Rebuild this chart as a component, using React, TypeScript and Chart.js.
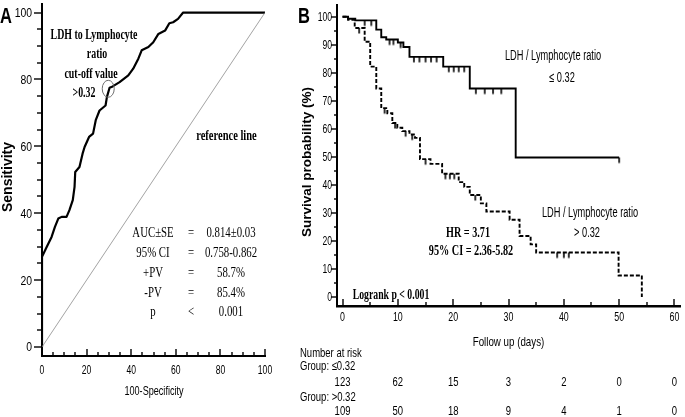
import React, { useEffect, useRef } from 'react';
import { Chart, registerables } from 'chart.js';

Chart.register(...registerables);

// ---------- Panel A: ROC curve ----------
const rocFpr = [0, 0, 2.1, 4.3, 5.8, 7.3, 8.8, 11, 12.3, 13.8, 14.6, 14.9, 16.8, 18.2, 19.1, 21.1, 22.9, 24.1, 25.8, 28.5, 29.1, 30.3, 31.7, 34.8, 38.7, 40.9, 43.2, 44.7, 47.7, 49.9, 52.2, 55.2, 57.1, 58.8, 61, 63.3, 100];
const rocTpr = [0, 27, 29.9, 32.9, 35.9, 38.4, 38.9, 38.9, 40.9, 43.9, 47.9, 52.3, 53.8, 57.8, 59.8, 62.8, 63.8, 67.8, 70.7, 72.2, 74.7, 77.5, 77.9, 79.2, 81.2, 83.2, 86.2, 88.7, 89.7, 91.1, 93.6, 94.6, 96.8, 97.1, 98.1, 100, 100];
const refLineX = [0, 100];
const refLineY = [0, 100];
const cutoffFpr = 29.7;
const cutoffTpr = 77.2;
const statLabels = ['AUC±SE', '95% CI', '+PV', '-PV', 'p'];
const statOps = ['=', '=', '=', '=', '<'];
const statValues = ['0.814±0.03', '0.758-0.862', '58.7%', '85.4%', '0.001'];

// ---------- Panel B: Kaplan-Meier ----------
const lowTimes = [0, 1, 2.3, 6.1, 7, 7.9, 10, 11, 12.1, 18.2, 23, 31.3, 50];
const lowSurv = [100, 99.3, 98.7, 95.4, 92.7, 91.9, 90.8, 89.2, 85.7, 82.2, 74.4, 49.8, 49.8];
const lowCensor = [4, 5.2, 8.5, 9.2, 10.5, 12.9, 13.9, 15, 16, 17, 19.2, 20.1, 21, 22, 24.1, 25.7, 27.2, 28.7, 50];
const highTimes = [0, 1, 2.2, 4, 5, 6.1, 7, 8.1, 9, 9.9, 10.8, 12.1, 13.1, 14, 15.9, 18, 21, 22, 23, 25, 26, 30.2, 32, 34, 35, 49.9, 54.1];
const highSurv = [100, 98.9, 96, 91.1, 82.2, 74.4, 67.4, 65.6, 62.1, 60.4, 59.2, 58, 56.8, 49.2, 47.5, 44, 41, 39.3, 36.4, 33.4, 30.5, 27.6, 21.8, 18.8, 15.9, 7.7, 0];
const highCensor = [3, 7.6, 9.5, 11.4, 12.6, 15, 18.6, 19.4, 20.2, 24, 38.8, 40, 40.9];
const riskTimes = [0, 10, 20, 30, 40, 50, 60];
const riskLow = [123, 62, 15, 3, 2, 0, 0];
const riskHigh = [109, 50, 18, 9, 4, 1, 0];

const SANS = "'Liberation Sans', Arial, sans-serif";
const SERIF = "'Liberation Serif', 'Times New Roman', serif";

function survAt(times: number[], surv: number[], t: number) {
  let v = surv[0];
  for (let i = 0; i < times.length; i++) if (times[i] <= t) v = surv[i];
  return v;
}

function txt(ctx: CanvasRenderingContext2D, s: string, x: number, y: number, size: number, family: string, bold: boolean, align: CanvasTextAlign, sx: number) {
  ctx.save();
  ctx.font = `${bold ? 'bold ' : ''}${size}px ${family}`;
  ctx.textAlign = align;
  ctx.textBaseline = 'alphabetic';
  ctx.fillStyle = '#000';
  ctx.translate(x, y + size * 0.34);
  ctx.scale(sx, 1);
  ctx.fillText(s, 0, 0);
  ctx.restore();
}

function rtxt(ctx: CanvasRenderingContext2D, s: string, cx: number, cy: number, font: string) {
  ctx.save();
  ctx.translate(cx, cy);
  ctx.rotate(-Math.PI / 2);
  ctx.font = font;
  ctx.textAlign = 'center';
  ctx.textBaseline = 'middle';
  ctx.fillStyle = '#000';
  ctx.fillText(s, 0, 0);
  ctx.restore();
}

// draws major/minor tick marks and the tick labels of the chart's own scales
function axisPlugin(o: any) {
  return {
    id: 'axisMarks',
    afterDraw(chart: any) {
      const { ctx, chartArea } = chart;
      const xs = chart.scales.x;
      const ys = chart.scales.y;
      ctx.save();
      ctx.strokeStyle = '#000';
      ctx.lineWidth = 1.4;
      for (let v = o.xMin; v <= o.xMax + 1e-9; v += o.xStep) {
        const px = Math.round(xs.getPixelForValue(v));
        const len = Math.abs(v % o.xMajor) < 1e-9 ? o.xMajLen : o.xMinLen;
        ctx.beginPath();
        ctx.moveTo(px, chartArea.bottom);
        ctx.lineTo(px, chartArea.bottom - len);
        ctx.stroke();
      }
      for (let v = o.yMin; v <= o.yMax + 1e-9; v += o.yStep) {
        const py = Math.round(ys.getPixelForValue(v));
        const len = Math.abs(v % o.yMajor) < 1e-9 ? o.yMajLen : o.yMinLen;
        ctx.beginPath();
        ctx.moveTo(chartArea.left, py);
        ctx.lineTo(chartArea.left - len, py);
        ctx.stroke();
      }
      ctx.restore();
      for (const t of xs.ticks) {
        txt(ctx, String(t.value), xs.getPixelForValue(t.value), chartArea.bottom + o.xLabelGap, 13, SANS, false, 'center', o.xSx);
      }
      for (const t of ys.ticks) {
        txt(ctx, String(t.value), chartArea.left - o.yLabelGap, ys.getPixelForValue(t.value), 13, SANS, false, 'right', o.ySx);
      }
    },
  };
}

const baseAxis = (extra: any, bw: number) => ({
  type: 'linear',
  grid: { display: false, drawTicks: false },
  border: { display: true, color: '#000', width: bw },
  ...extra,
});

export default function App() {
  const leftRef = useRef<HTMLCanvasElement>(null);
  const rightRef = useRef<HTMLCanvasElement>(null);

  useEffect(() => {
    const tickImg = document.createElement('canvas');
    tickImg.width = 4;
    tickImg.height = 14;
    const tctx = tickImg.getContext('2d')!;
    tctx.fillStyle = '#000';
    tctx.fillRect(1.2, 7, 1.6, 5.5);

    const leftText = {
      id: 'leftText',
      afterDraw(chart: any) {
        const { ctx } = chart;
        const xs = chart.scales.x;
        const ys = chart.scales.y;
        txt(ctx, 'A', 0, 16, 22, SANS, true, 'left', 0.75);
        rtxt(ctx, 'Sensitivity', 8, 177, `bold 14px ${SANS}`);
        txt(ctx, '100-Specificity', 154, 391, 13, SANS, false, 'center', 0.7);
        txt(ctx, 'LDH to Lymphocyte', 94, 34, 15, SERIF, true, 'center', 0.66);
        txt(ctx, 'ratio', 97, 53, 15, SERIF, true, 'center', 0.66);
        txt(ctx, 'cut-off value', 91, 73, 15, SERIF, true, 'center', 0.66);
        txt(ctx, '>0.32', 84, 92, 15, SERIF, true, 'center', 0.66);
        txt(ctx, 'reference line', 226.5, 134.5, 15, SERIF, true, 'center', 0.7);
        for (let i = 0; i < statLabels.length; i++) {
          const y = 232 + i * 19.8;
          txt(ctx, statLabels[i], 153, y, 15, SERIF, false, 'center', 0.72);
          txt(ctx, statOps[i], 191, y, 15, SERIF, false, 'center', 0.72);
          txt(ctx, statValues[i], 231, y, 15, SERIF, false, 'center', 0.72);
        }
        const cx = xs.getPixelForValue(cutoffFpr);
        const cy = ys.getPixelForValue(cutoffTpr);
        ctx.save();
        ctx.strokeStyle = '#6e6e6e';
        ctx.lineWidth = 1;
        ctx.beginPath();
        ctx.ellipse(cx, cy, 6, 8.5, 0, 0, Math.PI * 2);
        ctx.stroke();
        ctx.restore();
      },
    };

    const rightText = {
      id: 'rightText',
      afterDraw(chart: any) {
        const { ctx } = chart;
        const xs = chart.scales.x;
        txt(ctx, 'B', 13, 16, 22, SANS, true, 'left', 0.75);
        rtxt(ctx, 'Survival probability (%)', 22, 162, `bold 13.5px ${SANS}`);
        txt(ctx, 'Follow up (days)', 223.5, 342, 13, SANS, false, 'center', 0.75);
        txt(ctx, 'LDH / Lymphocyte ratio', 268, 55, 14, SANS, false, 'center', 0.66);
        txt(ctx, '≤ 0.32', 277, 77, 14, SANS, false, 'center', 0.66);
        txt(ctx, 'LDH / Lymphocyte ratio', 305, 212, 14, SANS, false, 'center', 0.66);
        txt(ctx, '> 0.32', 302, 232, 14, SANS, false, 'center', 0.66);
        txt(ctx, 'HR = 3.71', 183, 232, 15, SERIF, true, 'center', 0.68);
        txt(ctx, '95% CI = 2.36-5.82', 186, 250, 15, SERIF, true, 'center', 0.68);
        txt(ctx, 'Logrank p < 0.001', 106, 294, 15, SERIF, true, 'center', 0.65);
        txt(ctx, 'Number at risk', 15, 353, 13, SANS, false, 'left', 0.73);
        txt(ctx, 'Group: ≤0.32', 15, 366, 13, SANS, false, 'left', 0.73);
        txt(ctx, 'Group: >0.32', 15, 397, 13, SANS, false, 'left', 0.73);
        for (let i = 0; i < riskTimes.length; i++) {
          const px = xs.getPixelForValue(riskTimes[i]);
          txt(ctx, String(riskLow[i]), px, 382, 13, SANS, false, 'center', 0.73);
          txt(ctx, String(riskHigh[i]), px, 411, 13, SANS, false, 'center', 0.73);
        }
      },
    };

    const left = new Chart(leftRef.current!, {
      type: 'line',
      data: {
        datasets: [
          {
            data: refLineX.map((x, i) => ({ x, y: refLineY[i] })),
            borderColor: '#8c8c8c',
            borderWidth: 0.8,
            pointRadius: 0,
            tension: 0,
          },
          {
            data: rocFpr.map((x, i) => ({ x, y: rocTpr[i] })),
            borderColor: '#000',
            borderWidth: 2.2,
            pointRadius: 0,
            tension: 0,
            borderJoinStyle: 'round',
            borderCapStyle: 'round',
          },
        ],
      } as any,
      options: {
        responsive: false,
        animation: false,
        events: [],
        layout: { padding: { top: 3.5, right: 20, left: 0, bottom: 0 } },
        plugins: { legend: { display: false }, tooltip: { enabled: false } },
        scales: {
          x: baseAxis({
            min: 0,
            max: 100,
            ticks: { display: false, stepSize: 20, includeBounds: false, autoSkip: false },
            afterFit: (s: any) => { s.height = 61; },
          }, 2),
          y: baseAxis({
            min: -2.7,
            max: 102.7,
            ticks: { display: false, stepSize: 20, includeBounds: false, autoSkip: false },
            afterFit: (s: any) => { s.width = 42; },
          }, 2),
        },
      } as any,
      plugins: [
        axisPlugin({ xMin: 0, xMax: 100, xStep: 5, xMajor: 20, xMajLen: 7, xMinLen: 4, yMin: 0, yMax: 100, yStep: 5, yMajor: 20, yMajLen: 8, yMinLen: 5, xLabelGap: 14, yLabelGap: 10, xSx: 0.66, ySx: 0.8 }),
        leftText,
      ],
    });

    const right = new Chart(rightRef.current!, {
      type: 'line',
      data: {
        datasets: [
          {
            data: lowTimes.map((x, i) => ({ x, y: lowSurv[i] })),
            borderColor: '#000',
            borderWidth: 1.9,
            pointRadius: 0,
            stepped: true,
          },
          {
            data: highTimes.map((x, i) => ({ x, y: highSurv[i] })),
            borderColor: '#000',
            borderWidth: 1.9,
            borderDash: [4, 2],
            pointRadius: 0,
            stepped: true,
          },
          {
            data: lowCensor.map((x) => ({ x, y: survAt(lowTimes, lowSurv, x) })),
            showLine: false,
            pointStyle: tickImg,
            pointRadius: 3,
          },
          {
            data: highCensor.map((x) => ({ x, y: survAt(highTimes, highSurv, x) })),
            showLine: false,
            pointStyle: tickImg,
            pointRadius: 3,
          },
        ],
      } as any,
      options: {
        responsive: false,
        animation: false,
        events: [],
        layout: { padding: { top: 0, right: 1.4, left: 0, bottom: 0 } },
        plugins: { legend: { display: false }, tooltip: { enabled: false } },
        scales: {
          x: baseAxis({
            min: -1,
            max: 61,
            ticks: { display: false, stepSize: 10, includeBounds: false, autoSkip: false },
            afterFit: (s: any) => { s.height = 111; },
          }, 2.6),
          y: baseAxis({
            min: -3.2,
            max: 104.2,
            ticks: { display: false, stepSize: 10, includeBounds: false, autoSkip: false },
            afterFit: (s: any) => { s.width = 52; },
          }, 2),
        },
      } as any,
      plugins: [
        axisPlugin({ xMin: 0, xMax: 60, xStep: 5, xMajor: 10, xMajLen: 7, xMinLen: 4, yMin: 0, yMax: 100, yStep: 5, yMajor: 10, yMajLen: 6, yMinLen: 3, xLabelGap: 11, yLabelGap: 5, xSx: 0.68, ySx: 0.66 }),
        rightText,
      ],
    });

    return () => {
      left.destroy();
      right.destroy();
    };
  }, []);

  return (
    <div style={{ position: 'fixed', left: 0, top: 0, width: 685, height: 417, background: '#fff' }}>
      <canvas ref={leftRef} width={285} height={417} style={{ position: 'absolute', left: 0, top: 0 }} />
      <canvas ref={rightRef} width={400} height={417} style={{ position: 'absolute', left: 285, top: 0 }} />
    </div>
  );
}
